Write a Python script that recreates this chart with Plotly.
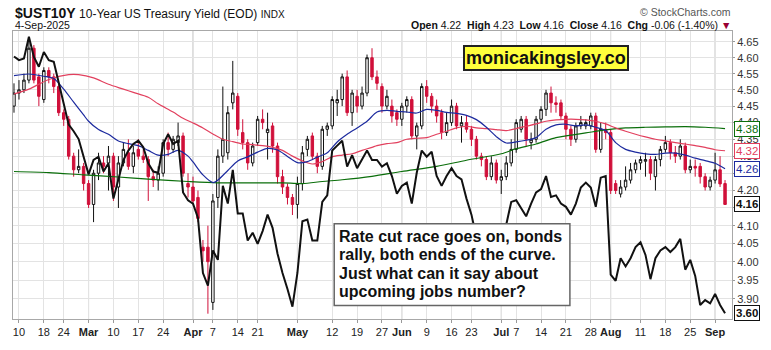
import numpy as np
import pandas as pd
import plotly.graph_objects as go

# ---------------- data ----------------
holidays = ["2025-02-17", "2025-04-18", "2025-05-26", "2025-06-19", "2025-07-04", "2025-09-01"]
dates = [d.strftime("%Y-%m-%d") for d in pd.bdate_range("2025-02-07", "2025-09-04")
         if d.strftime("%Y-%m-%d") not in holidays]

opens = [4.45, 4.49, 4.50, 4.53, 4.63, 4.54, 4.47, 4.56, 4.54, 4.51,
         4.43, 4.41, 4.30, 4.26, 4.27, 4.22, 4.16, 4.25, 4.28, 4.28,
         4.30, 4.21, 4.28, 4.31, 4.27, 4.32, 4.30, 4.29, 4.24, 4.23,
         4.25, 4.34, 4.32, 4.34, 4.36, 4.22, 4.21, 4.18, 4.04, 4.04,
         3.89, 4.18, 4.30, 4.31, 4.46, 4.48, 4.37, 4.34, 4.28, 4.34,
         4.41, 4.37, 4.39, 4.33, 4.24, 4.21, 4.18, 4.16, 4.22, 4.32,
         4.36, 4.30, 4.27, 4.38, 4.39, 4.46, 4.47, 4.54, 4.43, 4.48,
         4.45, 4.49, 4.60, 4.54, 4.51, 4.45, 4.45, 4.43, 4.41, 4.45,
         4.47, 4.36, 4.39, 4.51, 4.48, 4.45, 4.43, 4.37, 4.40, 4.45,
         4.39, 4.40, 4.38, 4.35, 4.30, 4.29, 4.24, 4.28, 4.23, 4.24,
         4.28, 4.32, 4.38, 4.41, 4.34, 4.35, 4.41, 4.44, 4.49, 4.46,
         4.46, 4.42, 4.38, 4.35, 4.39, 4.39, 4.39, 4.42, 4.32, 4.38,
         4.37, 4.22, 4.19, 4.21, 4.23, 4.26, 4.28, 4.285, 4.29, 4.24,
         4.29, 4.32, 4.34, 4.31, 4.30, 4.33, 4.26, 4.27, 4.27, 4.24,
         4.21, 4.23, 4.26, 4.22]
highs = [4.52, 4.53, 4.55, 4.65, 4.64, 4.55, 4.57, 4.57, 4.55, 4.52,
         4.44, 4.42, 4.31, 4.32, 4.28, 4.23, 4.26, 4.31, 4.30, 4.33,
         4.31, 4.30, 4.34, 4.35, 4.33, 4.35, 4.32, 4.30, 4.26, 4.27,
         4.35, 4.37, 4.36, 4.40, 4.37, 4.25, 4.24, 4.20, 4.06, 4.10,
         4.19, 4.32, 4.51, 4.45, 4.59, 4.49, 4.41, 4.35, 4.34, 4.42,
         4.44, 4.43, 4.40, 4.34, 4.26, 4.22, 4.19, 4.24, 4.33, 4.36,
         4.37, 4.31, 4.39, 4.40, 4.48, 4.50, 4.55, 4.56, 4.50, 4.50,
         4.51, 4.61, 4.63, 4.56, 4.52, 4.50, 4.47, 4.44, 4.46, 4.48,
         4.48, 4.40, 4.52, 4.53, 4.49, 4.47, 4.44, 4.43, 4.47, 4.46,
         4.42, 4.42, 4.39, 4.36, 4.31, 4.30, 4.30, 4.29, 4.26, 4.30,
         4.35, 4.41, 4.42, 4.42, 4.37, 4.42, 4.45, 4.50, 4.51, 4.48,
         4.47, 4.43, 4.39, 4.40, 4.42, 4.41, 4.43, 4.43, 4.40, 4.40,
         4.38, 4.23, 4.23, 4.27, 4.28, 4.29, 4.30, 4.31, 4.30, 4.30,
         4.33, 4.36, 4.35, 4.33, 4.35, 4.34, 4.29, 4.29, 4.28, 4.25,
         4.24, 4.31, 4.30, 4.23]
lows = [4.43, 4.47, 4.49, 4.52, 4.52, 4.45, 4.46, 4.52, 4.49, 4.42,
        4.39, 4.29, 4.24, 4.25, 4.20, 4.15, 4.11, 4.23, 4.25, 4.20,
        4.17, 4.15, 4.27, 4.26, 4.25, 4.29, 4.28, 4.17, 4.21, 4.20,
        4.24, 4.30, 4.31, 4.33, 4.24, 4.18, 4.16, 4.11, 4.00, 3.86,
        3.87, 4.15, 4.28, 4.29, 4.44, 4.36, 4.32, 4.26, 4.27, 4.33,
        4.38, 4.29, 4.31, 4.22, 4.19, 4.16, 4.13, 4.12, 4.20, 4.30,
        4.29, 4.25, 4.26, 4.36, 4.38, 4.42, 4.45, 4.42, 4.39, 4.43,
        4.44, 4.48, 4.53, 4.50, 4.43, 4.44, 4.40, 4.39, 4.39, 4.43,
        4.35, 4.32, 4.38, 4.46, 4.43, 4.40, 4.35, 4.36, 4.39, 4.38,
        4.34, 4.37, 4.33, 4.29, 4.27, 4.23, 4.23, 4.22, 4.19, 4.23,
        4.27, 4.31, 4.37, 4.33, 4.32, 4.34, 4.40, 4.42, 4.43, 4.43,
        4.41, 4.35, 4.33, 4.34, 4.38, 4.38, 4.38, 4.31, 4.31, 4.35,
        4.19, 4.19, 4.18, 4.20, 4.22, 4.25, 4.26, 4.24, 4.23, 4.20,
        4.27, 4.31, 4.29, 4.28, 4.29, 4.25, 4.25, 4.24, 4.22, 4.20,
        4.20, 4.22, 4.21, 4.16]
closes = [4.49, 4.50, 4.53, 4.63, 4.53, 4.48, 4.56, 4.54, 4.51, 4.43,
          4.41, 4.30, 4.26, 4.27, 4.22, 4.16, 4.25, 4.28, 4.27, 4.30,
          4.21, 4.28, 4.32, 4.27, 4.31, 4.30, 4.29, 4.24, 4.23, 4.25,
          4.34, 4.32, 4.35, 4.36, 4.25, 4.21, 4.17, 4.12, 4.03, 4.00,
          4.17, 4.30, 4.35, 4.43, 4.49, 4.38, 4.34, 4.28, 4.33, 4.41,
          4.40, 4.38, 4.33, 4.24, 4.21, 4.18, 4.16, 4.22, 4.31, 4.35,
          4.30, 4.27, 4.38, 4.39, 4.47, 4.47, 4.54, 4.43, 4.49, 4.45,
          4.49, 4.60, 4.54, 4.52, 4.45, 4.48, 4.42, 4.41, 4.45, 4.47,
          4.36, 4.39, 4.51, 4.48, 4.45, 4.42, 4.37, 4.40, 4.45, 4.39,
          4.40, 4.38, 4.35, 4.30, 4.29, 4.24, 4.28, 4.23, 4.24, 4.28,
          4.32, 4.40, 4.41, 4.35, 4.35, 4.41, 4.44, 4.49, 4.46, 4.455,
          4.42, 4.38, 4.35, 4.39, 4.40, 4.40, 4.42, 4.32, 4.38, 4.37,
          4.20, 4.20, 4.21, 4.23, 4.26, 4.28, 4.29, 4.29, 4.25, 4.29,
          4.32, 4.34, 4.31, 4.30, 4.33, 4.26, 4.27, 4.265, 4.24, 4.21,
          4.23, 4.26, 4.219, 4.16]

# 2-year yield overlay (own scale)
ust2y = [4.227, 4.218, 4.222, 4.275, 4.226, 4.202, 4.238, 4.218, 4.214, 4.163,
         4.116, 4.061, 4.045, 4.026, 3.983, 3.940, 3.975, 3.983, 3.947, 3.967,
         3.881, 3.928, 3.975, 3.998, 4.014, 4.022, 4.006, 3.967, 3.947, 3.944,
         4.014, 4.038, 4.014, 4.022, 3.896, 3.877, 3.869, 3.834, 3.700, 3.669,
         3.755, 3.732, 3.912, 3.869, 3.951, 3.845, 3.845, 3.779, 3.798, 3.771,
         3.802, 3.842, 3.810, 3.747, 3.700, 3.661, 3.618, 3.700, 3.826, 3.830,
         3.779, 3.779, 3.873, 3.889, 3.998, 4.010, 4.022, 3.959, 3.987, 3.955,
         3.975, 3.998, 3.975, 3.975, 3.959, 3.967, 3.936, 3.893, 3.912, 3.920,
         3.869, 3.944, 3.998, 3.983, 3.995, 3.936, 3.912, 3.936, 3.955, 3.936,
         3.928, 3.881, 3.842, 3.787, 3.763, 3.732, 3.747, 3.736, 3.763, 3.815,
         3.873, 3.877, 3.857, 3.838, 3.869, 3.896, 3.904, 3.936, 3.885, 3.889,
         3.869, 3.861, 3.842, 3.869, 3.908, 3.920, 3.908, 3.861, 3.932, 3.936,
         3.696, 3.681, 3.736, 3.716, 3.736, 3.763, 3.775, 3.744, 3.685, 3.736,
         3.755, 3.763, 3.751, 3.763, 3.783, 3.708, 3.732, 3.693, 3.622, 3.634,
         3.626, 3.649, 3.622, 3.602]

# moving averages (trading-day position, value)
ma20_pos = [0, 3, 6, 8, 10, 12, 14, 15, 17, 19, 21, 23, 25, 27, 29, 31, 33, 35, 36, 38,
            40, 41, 43, 45, 47, 49, 51, 53, 55, 57, 59, 61, 63, 65, 67, 69, 71, 73, 75, 77,
            79, 81, 83, 85, 87, 89, 91, 93, 95, 97, 99, 101, 103, 105, 107, 109, 111, 113,
            115, 117, 119, 121, 123, 125, 127, 129, 131, 133, 135, 137, 139, 141, 143]
ma20_val = [4.544, 4.549, 4.542, 4.535, 4.502, 4.462, 4.423, 4.404, 4.379, 4.365, 4.345,
            4.337, 4.331, 4.317, 4.303, 4.305, 4.317, 4.300, 4.283, 4.245, 4.223, 4.230,
            4.258, 4.286, 4.298, 4.312, 4.323, 4.318, 4.299, 4.281, 4.284, 4.297, 4.310,
            4.342, 4.365, 4.384, 4.404, 4.432, 4.437, 4.434, 4.432, 4.429, 4.440, 4.437,
            4.431, 4.428, 4.422, 4.409, 4.386, 4.358, 4.339, 4.342, 4.347, 4.355, 4.380,
            4.393, 4.395, 4.390, 4.393, 4.386, 4.376, 4.340, 4.320, 4.312, 4.307, 4.305,
            4.309, 4.309, 4.303, 4.294, 4.287, 4.279, 4.263]
ma50_pos = [0, 3, 7, 11, 13, 16, 19, 22, 24, 27, 29, 32, 34, 36, 38, 40, 42, 44, 46, 48,
            50, 52, 54, 56, 58, 60, 62, 64, 66, 68, 70, 72, 73, 75, 77, 79, 81, 83, 85, 87,
            89, 91, 93, 95, 97, 99, 101, 103, 105, 107, 109, 111, 113, 115, 117, 119, 121,
            123, 125, 127, 129, 131, 133, 135, 137, 139, 141, 143]
ma50_val = [4.487, 4.502, 4.532, 4.547, 4.547, 4.537, 4.517, 4.502, 4.492, 4.477, 4.457,
            4.432, 4.413, 4.399, 4.384, 4.366, 4.350, 4.343, 4.336, 4.334, 4.331, 4.326,
            4.317, 4.300, 4.286, 4.277, 4.284, 4.298, 4.303, 4.307, 4.317, 4.326, 4.331,
            4.337, 4.340, 4.350, 4.353, 4.355, 4.365, 4.374, 4.384, 4.389, 4.384, 4.382,
            4.379, 4.376, 4.382, 4.389, 4.396, 4.404, 4.408, 4.410, 4.410, 4.408, 4.404,
            4.396, 4.384, 4.374, 4.365, 4.357, 4.350, 4.345, 4.340, 4.336, 4.331, 4.326,
            4.319, 4.316]
ma200_pos = [0, 7, 14, 21, 27, 35, 41, 48, 54, 58, 62, 66, 72, 78, 85, 91, 98, 101, 105,
             109, 111, 115, 119, 123, 127, 131, 135, 139, 143]
ma200_val = [4.255, 4.252, 4.245, 4.239, 4.233, 4.226, 4.222, 4.222, 4.222, 4.220, 4.226,
             4.231, 4.241, 4.255, 4.270, 4.288, 4.307, 4.322, 4.336, 4.355, 4.360, 4.369,
             4.378, 4.384, 4.386, 4.387, 4.388, 4.386, 4.382]

tick_dates = ["2025-02-10", "2025-02-18", "2025-02-24", "2025-03-03", "2025-03-10",
              "2025-03-17", "2025-03-24", "2025-04-01", "2025-04-07", "2025-04-14",
              "2025-04-21", "2025-05-01", "2025-05-12", "2025-05-19", "2025-05-27",
              "2025-06-02", "2025-06-09", "2025-06-16", "2025-06-23", "2025-07-01",
              "2025-07-07", "2025-07-14", "2025-07-21", "2025-07-28", "2025-08-01",
              "2025-08-11", "2025-08-18", "2025-08-25", "2025-09-02"]
tick_text = ["10", "18", "24", "<b>Mar</b>", "10", "17", "24", "<b>Apr</b>", "7", "14",
             "21", "<b>May</b>", "12", "19", "27", "<b>Jun</b>", "9", "16", "23", "<b>Jul</b>",
             "7", "14", "21", "28", "<b>Aug</b>", "11", "18", "25", "<b>Sep</b>"]
month_dates = ["2025-03-03", "2025-04-01", "2025-05-01", "2025-06-02", "2025-07-01",
               "2025-08-01", "2025-09-02"]
y_ticks = [3.90, 3.95, 4.00, 4.05, 4.10, 4.15, 4.20, 4.25, 4.30, 4.35, 4.40, 4.45,
           4.50, 4.55, 4.60, 4.65]

# ---------------- figure ----------------
FONT = "Liberation Sans, Arial, sans-serif"
W, H = 771, 350
L, R, T, B = 12, 735, 31, 329


def px(p):
    return (p - L) / (R - L)


def py(q):
    return (B - q) / (B - T)


RED = "#d0103a"
fig = go.Figure()

fig.add_trace(go.Scatter(x=dates, y=ust2y, yaxis="y2", mode="lines",
                         line=dict(color="#111111", width=2), hoverinfo="skip"))

fig.add_trace(go.Candlestick(
    x=dates, open=opens, high=highs, low=lows, close=closes,
    increasing=dict(line=dict(color="#111111", width=1), fillcolor="white"),
    decreasing=dict(line=dict(color=RED, width=1), fillcolor=RED),
    whiskerwidth=0, hoverinfo="skip"))

for pos, val, col in [(ma200_pos, ma200_val, "#0a6e0a"),
                      (ma50_pos, ma50_val, "#e2405e"),
                      (ma20_pos, ma20_val, "#1c2a9e")]:
    fig.add_trace(go.Scatter(x=[dates[i] for i in pos], y=val, mode="lines",
                             line=dict(color=col, width=1.2, shape="spline", smoothing=0.8),
                             hoverinfo="skip"))

# month separator lines
shapes = []
for d in month_dates:
    k = dates.index(d)
    shapes.append(dict(type="line", xref="x", yref="paper", x0=k, x1=k, y0=0, y1=1,
                       line=dict(color="#bdbdbd", width=1), layer="below"))
# comment box
shapes.append(dict(type="rect", xref="paper", yref="paper",
                   x0=px(335), x1=px(572), y0=py(315), y1=py(230.5),
                   fillcolor="white", line=dict(color="#666666", width=1.5), layer="above"))

ann = []
# header
ann.append(dict(xref="paper", yref="paper", x=px(12), y=py(12), xanchor="left", yanchor="middle",
                text="<b><span style='font-size:14px'>$UST10Y</span></b> 10-Year US Treasury Yield (EOD) "
                     "<span style='font-size:10px'>INDX</span>",
                showarrow=False, font=dict(family=FONT, size=12, color="#111111")))
ann.append(dict(xref="paper", yref="paper", x=px(12), y=py(24.5), xanchor="left", yanchor="middle",
                text="4-Sep-2025", showarrow=False, font=dict(family=FONT, size=10.5, color="#111111")))
ann.append(dict(xref="paper", yref="paper", x=px(736), y=py(11.5), xanchor="right", yanchor="middle",
                text="© StockCharts.com", showarrow=False,
                font=dict(family=FONT, size=10.5, color="#555555")))
chg = closes[-1] - closes[-2]
ann.append(dict(xref="paper", yref="paper", x=px(736), y=py(24.5), xanchor="right", yanchor="middle",
                text=(f"<b>Open</b> {opens[-1]:.2f}  <b>High</b> {highs[-1]:.2f}  "
                      f"<b>Low</b> {lows[-1]:.2f}  <b>Close</b> {closes[-1]:.2f}  "
                      f"<b>Chg</b> {chg:.2f} ({chg / closes[-2] * 100:.2f}%) "
                      f"<span style='color:#990033'>▼</span>"),
                showarrow=False, font=dict(family=FONT, size=10.5, color="#111111")))
# watermark box
ann.append(dict(xref="paper", yref="paper", x=px(547.5), y=py(58.5), xanchor="center", yanchor="middle",
                text="<b>monicakingsley.co</b>", showarrow=False,
                font=dict(family=FONT, size=18, color="#111111"),
                bgcolor="#ffff3c", bordercolor="#222222", borderwidth=2, borderpad=1))
# comment text
comment = ["Rate cut race goes on, bonds", "rally, both ends of the curve.",
           "Just what can it say about", "upcoming jobs number?"]
for k, line in enumerate(comment):
    ann.append(dict(xref="paper", yref="paper", x=px(338), y=py(243.5 + 19 * k),
                    xanchor="left", yanchor="middle", text=f"<b>{line}</b>", showarrow=False,
                    font=dict(family=FONT, size=16, color="#111111")))

# last value badges
def badge(val, col, yref="y", bold=False, logv=True):
    yv = np.log10(val) if logv else val
    txt = f"{val:.2f}"
    if bold:
        txt = f"<b>{txt}</b>"
    return dict(xref="paper", yref=yref, x=1, xshift=2, y=yv, xanchor="left", yanchor="middle",
                text=txt, showarrow=False, font=dict(family=FONT, size=11.5, color=col),
                bgcolor="white", bordercolor=col, borderwidth=1, borderpad=1)


ann.append(badge(ma200_val[-1], "#0a6e0a"))
ann.append(badge(ma50_val[-1], "#e2405e"))
ann.append(badge(ma20_val[-1], "#1c2a9e"))
ann.append(badge(closes[-1], "#111111", bold=True))
ann.append(badge(ust2y[-1], "#111111", yref="y2", bold=True, logv=False))

fig.update_layout(
    width=W, height=H,
    margin=dict(l=L, r=W - R, t=T, b=H - B, pad=0),
    paper_bgcolor="white", plot_bgcolor="white",
    showlegend=False,
    font=dict(family=FONT, size=11, color="#222222"),
    xaxis=dict(type="category", categoryorder="array", categoryarray=dates,
               range=[-0.2, len(dates) + 0.4], rangeslider=dict(visible=False),
               tickmode="array", tickvals=tick_dates, ticktext=tick_text,
               showgrid=True, gridcolor="#e3e3e3", gridwidth=1,
               ticks="outside", ticklen=3, tickcolor="#999999",
               showline=True, linecolor="#a8a8a8", mirror=True,
               tickfont=dict(family=FONT, size=11, color="#222222"), tickangle=0),
    yaxis=dict(type="log", side="right",
               range=[np.log10(3.846), np.log10(4.685)],
               tickmode="array", tickvals=y_ticks, ticktext=[f"{v:.2f}" for v in y_ticks],
               showgrid=True, gridcolor="#e3e3e3", gridwidth=1,
               ticks="outside", ticklen=2, tickcolor="#999999",
               showline=True, linecolor="#a8a8a8", mirror=True, zeroline=False,
               tickfont=dict(family=FONT, size=11, color="#333333")),
    yaxis2=dict(overlaying="y", side="left", visible=False,
                range=[3.588, 4.289], showgrid=False, zeroline=False),
    shapes=shapes,
    annotations=ann,
)

fig.write_html("out.html")
